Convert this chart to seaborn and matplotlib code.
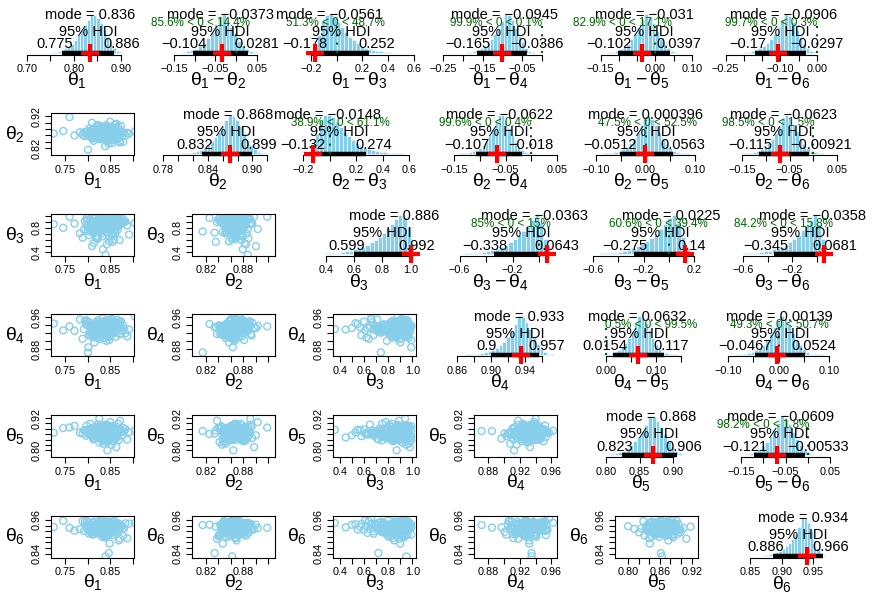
import numpy as np
import pandas as pd
import matplotlib
matplotlib.use("Agg")
import matplotlib.pyplot as plt
import seaborn as sns
from matplotlib.transforms import ScaledTranslation

sns.set_theme(style="ticks")
plt.rcParams['font.family'] = ['Liberation Sans', 'DejaVu Sans']
plt.rcParams['mathtext.fontset'] = 'custom'
plt.rcParams['mathtext.rm'] = 'Liberation Sans'
plt.rcParams['mathtext.it'] = 'Liberation Sans'
plt.rcParams['mathtext.bf'] = 'Liberation Sans:bold'
plt.rcParams['axes.unicode_minus'] = True

# ---------------- data: MCMC draws ----------------
theta1 = [0.842, 0.811, 0.857, 0.829, 0.868, 0.803, 0.838, 0.851, 0.794, 0.846,
          0.822, 0.879, 0.835, 0.816, 0.862, 0.841, 0.783, 0.826, 0.873, 0.848,
          0.831, 0.809, 0.855, 0.888, 0.837, 0.819, 0.845, 0.799, 0.864, 0.833,
          0.852, 0.827, 0.771, 0.843, 0.815, 0.869, 0.839, 0.806, 0.858, 0.824,
          0.836, 0.892, 0.813, 0.849, 0.828, 0.861, 0.789, 0.844, 0.832, 0.876,
          0.818, 0.853, 0.725, 0.840, 0.866, 0.821, 0.847, 0.802, 0.834, 0.859,
          0.825, 0.871, 0.812, 0.850, 0.838, 0.797, 0.863, 0.830, 0.845, 0.905,
          0.817, 0.856, 0.834, 0.808, 0.842, 0.826, 0.878, 0.820, 0.849, 0.837,
          0.760, 0.860, 0.823, 0.844, 0.814, 0.867, 0.831, 0.853, 0.801, 0.840,
          0.828, 0.884, 0.819, 0.846, 0.835, 0.746, 0.854, 0.810, 0.872, 0.833,
          0.839, 0.821, 0.851, 0.806, 0.844, 0.862, 0.828, 0.815, 0.847, 0.833,
          0.858, 0.824, 0.841, 0.869, 0.812, 0.836, 0.853, 0.827, 0.845, 0.798,
          0.831, 0.864, 0.819, 0.848, 0.838, 0.804, 0.856, 0.829, 0.843, 0.874,
          0.816, 0.835, 0.861, 0.823, 0.850, 0.809, 0.840, 0.867, 0.826, 0.846,
          0.832, 0.855, 0.813, 0.842, 0.871, 0.820, 0.837, 0.859, 0.800, 0.844,
          0.830, 0.852, 0.818, 0.865, 0.834, 0.847, 0.807, 0.841, 0.857, 0.825,
          0.849, 0.814, 0.838, 0.863, 0.822, 0.843, 0.792, 0.856, 0.830, 0.868,
          0.817, 0.845, 0.836, 0.860, 0.811, 0.839, 0.853, 0.827, 0.848, 0.881]
theta2 = [0.871, 0.852, 0.879, 0.861, 0.889, 0.866, 0.845, 0.874, 0.858, 0.883,
          0.868, 0.840, 0.877, 0.863, 0.856, 0.892, 0.870, 0.849, 0.865, 0.881,
          0.859, 0.873, 0.836, 0.868, 0.886, 0.854, 0.876, 0.862, 0.897, 0.867,
          0.848, 0.872, 0.860, 0.884, 0.857, 0.869, 0.826, 0.875, 0.864, 0.851,
          0.880, 0.866, 0.843, 0.871, 0.858, 0.894, 0.862, 0.878, 0.853, 0.869,
          0.874, 0.846, 0.866, 0.887, 0.859, 0.872, 0.834, 0.863, 0.881, 0.855,
          0.867, 0.877, 0.850, 0.903, 0.864, 0.870, 0.857, 0.885, 0.842, 0.873,
          0.861, 0.868, 0.879, 0.853, 0.866, 0.891, 0.860, 0.875, 0.847, 0.869,
          0.918, 0.856, 0.872, 0.864, 0.882, 0.849, 0.867, 0.876, 0.815, 0.862,
          0.870, 0.859, 0.888, 0.865, 0.852, 0.874, 0.861, 0.900, 0.838, 0.868,
          0.863, 0.874, 0.856, 0.869, 0.881, 0.851, 0.866, 0.877, 0.859, 0.871,
          0.845, 0.868, 0.884, 0.862, 0.873, 0.854, 0.879, 0.865, 0.849, 0.870,
          0.887, 0.861, 0.875, 0.857, 0.867, 0.882, 0.852, 0.872, 0.864, 0.890,
          0.858, 0.876, 0.846, 0.869, 0.880, 0.863, 0.855, 0.873, 0.866, 0.885,
          0.850, 0.871, 0.860, 0.878, 0.843, 0.867, 0.883, 0.862, 0.874, 0.856,
          0.869, 0.888, 0.853, 0.865, 0.877, 0.859, 0.872, 0.848, 0.868, 0.881,
          0.861, 0.875, 0.857, 0.864, 0.893, 0.852, 0.870, 0.879, 0.860, 0.866,
          0.876, 0.847, 0.867, 0.884, 0.858, 0.872, 0.863, 0.854, 0.878, 0.869]
theta3 = [0.87, 0.74, 0.93, 0.81, 0.96, 0.68, 0.89, 0.78, 0.91, 0.85,
          0.62, 0.94, 0.83, 0.97, 0.76, 0.88, 0.71, 0.92, 0.86, 0.99,
          0.80, 0.90, 0.57, 0.84, 0.95, 0.73, 0.88, 0.82, 0.98, 0.66,
          0.92, 0.79, 0.87, 0.53, 0.90, 0.85, 0.96, 0.75, 0.89, 0.93,
          0.84, 0.69, 0.91, 0.80, 0.97, 0.87, 0.64, 0.94, 0.82, 0.88,
          0.77, 0.95, 0.86, 0.36, 0.90, 0.83, 0.72, 0.99, 0.89, 0.81,
          0.93, 0.60, 0.87, 0.78, 0.92, 0.85, 0.96, 0.70, 0.91, 0.88,
          0.83, 0.97, 0.45, 0.86, 0.79, 0.94, 0.89, 0.67, 0.90, 0.84,
          0.98, 0.76, 0.92, 0.87, 0.55, 0.93, 0.81, 0.88, 0.74, 0.95,
          0.86, 0.90, 0.63, 0.84, 0.97, 0.80, 0.91, 0.50, 0.89, 0.94,
          0.88, 0.79, 0.93, 0.84, 0.97, 0.71, 0.90, 0.86, 0.95, 0.81,
          0.92, 0.76, 0.87, 0.99, 0.83, 0.94, 0.68, 0.89, 0.85, 0.96,
          0.78, 0.91, 0.87, 0.58, 0.93, 0.82, 0.98, 0.74, 0.90, 0.86,
          0.95, 0.80, 0.88, 0.65, 0.92, 0.84, 0.97, 0.77, 0.89, 0.91,
          0.83, 0.94, 0.72, 0.87, 0.96, 0.85, 0.90, 0.61, 0.93, 0.79,
          0.88, 0.99, 0.82, 0.91, 0.75, 0.86, 0.94, 0.89, 0.70, 0.92,
          0.84, 0.97, 0.80, 0.90, 0.87, 0.95, 0.77, 0.88, 0.93, 0.83,
          0.98, 0.73, 0.91, 0.86, 0.96, 0.81, 0.89, 0.94, 0.66, 0.90]
theta4 = [0.934, 0.921, 0.941, 0.928, 0.947, 0.915, 0.936, 0.925, 0.951, 0.931,
          0.909, 0.939, 0.926, 0.944, 0.932, 0.918, 0.954, 0.929, 0.937, 0.903,
          0.942, 0.927, 0.935, 0.912, 0.948, 0.930, 0.922, 0.940, 0.933, 0.957,
          0.919, 0.938, 0.926, 0.945, 0.897, 0.932, 0.943, 0.924, 0.936, 0.914,
          0.950, 0.929, 0.939, 0.920, 0.934, 0.946, 0.906, 0.931, 0.941, 0.927,
          0.937, 0.916, 0.944, 0.930, 0.953, 0.923, 0.935, 0.885, 0.940, 0.928,
          0.933, 0.949, 0.917, 0.938, 0.925, 0.942, 0.911, 0.936, 0.931, 0.962,
          0.921, 0.945, 0.929, 0.934, 0.901, 0.940, 0.926, 0.947, 0.932, 0.919,
          0.937, 0.928, 0.952, 0.913, 0.943, 0.930, 0.924, 0.939, 0.872, 0.935,
          0.946, 0.920, 0.932, 0.941, 0.908, 0.927, 0.955, 0.933, 0.918, 0.938,
          0.931, 0.924, 0.939, 0.917, 0.944, 0.928, 0.935, 0.912, 0.948, 0.933,
          0.921, 0.941, 0.927, 0.936, 0.909, 0.945, 0.930, 0.919, 0.938, 0.952,
          0.925, 0.934, 0.943, 0.915, 0.932, 0.947, 0.922, 0.937, 0.929, 0.950,
          0.913, 0.940, 0.926, 0.935, 0.946, 0.920, 0.931, 0.942, 0.905, 0.938,
          0.928, 0.953, 0.923, 0.936, 0.918, 0.944, 0.933, 0.927, 0.949, 0.930,
          0.916, 0.939, 0.925, 0.945, 0.934, 0.910, 0.941, 0.929, 0.937, 0.921,
          0.951, 0.932, 0.926, 0.943, 0.914, 0.936, 0.930, 0.948, 0.922, 0.940,
          0.928, 0.935, 0.907, 0.944, 0.933, 0.919, 0.938, 0.927, 0.954, 0.931]
theta5 = [0.868, 0.851, 0.879, 0.842, 0.872, 0.860, 0.889, 0.855, 0.875, 0.836,
          0.864, 0.883, 0.847, 0.870, 0.858, 0.895, 0.866, 0.829, 0.877, 0.853,
          0.886, 0.862, 0.874, 0.840, 0.869, 0.881, 0.849, 0.873, 0.812, 0.865,
          0.878, 0.856, 0.891, 0.867, 0.844, 0.876, 0.861, 0.899, 0.852, 0.871,
          0.834, 0.868, 0.884, 0.857, 0.874, 0.846, 0.863, 0.893, 0.859, 0.870,
          0.880, 0.821, 0.866, 0.876, 0.850, 0.887, 0.862, 0.872, 0.838, 0.869,
          0.859, 0.878, 0.845, 0.905, 0.864, 0.854, 0.882, 0.867, 0.831, 0.873,
          0.860, 0.890, 0.848, 0.871, 0.863, 0.918, 0.857, 0.875, 0.841, 0.868,
          0.885, 0.853, 0.866, 0.800, 0.877, 0.861, 0.894, 0.850, 0.872, 0.864,
          0.843, 0.879, 0.858, 0.870, 0.825, 0.883, 0.865, 0.856, 0.910, 0.869,
          0.866, 0.852, 0.878, 0.861, 0.884, 0.843, 0.870, 0.857, 0.875, 0.849,
          0.888, 0.864, 0.873, 0.838, 0.868, 0.881, 0.855, 0.872, 0.860, 0.892,
          0.847, 0.867, 0.877, 0.853, 0.885, 0.862, 0.834, 0.874, 0.858, 0.869,
          0.880, 0.850, 0.865, 0.896, 0.856, 0.871, 0.844, 0.876, 0.863, 0.883,
          0.859, 0.870, 0.841, 0.867, 0.879, 0.854, 0.886, 0.862, 0.873, 0.848,
          0.868, 0.890, 0.857, 0.875, 0.837, 0.865, 0.882, 0.861, 0.871, 0.851,
          0.878, 0.864, 0.845, 0.869, 0.887, 0.856, 0.874, 0.860, 0.866, 0.899,
          0.853, 0.872, 0.863, 0.840, 0.877, 0.868, 0.858, 0.884, 0.865, 0.870]
theta6 = [0.934, 0.918, 0.941, 0.926, 0.948, 0.911, 0.937, 0.929, 0.952, 0.921,
          0.939, 0.903, 0.944, 0.931, 0.915, 0.946, 0.927, 0.956, 0.933, 0.908,
          0.942, 0.924, 0.936, 0.895, 0.950, 0.930, 0.917, 0.940, 0.928, 0.966,
          0.913, 0.938, 0.922, 0.945, 0.934, 0.887, 0.943, 0.926, 0.951, 0.920,
          0.936, 0.947, 0.909, 0.932, 0.940, 0.924, 0.955, 0.929, 0.900, 0.938,
          0.943, 0.916, 0.935, 0.949, 0.927, 0.941, 0.842, 0.933, 0.946, 0.919,
          0.937, 0.925, 0.953, 0.931, 0.912, 0.944, 0.928, 0.939, 0.905, 0.950,
          0.923, 0.942, 0.934, 0.972, 0.917, 0.936, 0.929, 0.947, 0.876, 0.940,
          0.932, 0.951, 0.921, 0.938, 0.926, 0.945, 0.910, 0.935, 0.942, 0.830,
          0.928, 0.948, 0.914, 0.939, 0.930, 0.957, 0.924, 0.943, 0.893, 0.936,
          0.935, 0.922, 0.943, 0.917, 0.948, 0.929, 0.939, 0.910, 0.952, 0.933,
          0.925, 0.945, 0.904, 0.937, 0.928, 0.950, 0.919, 0.941, 0.931, 0.956,
          0.914, 0.936, 0.926, 0.946, 0.898, 0.938, 0.930, 0.953, 0.921, 0.942,
          0.934, 0.909, 0.947, 0.927, 0.940, 0.918, 0.951, 0.932, 0.944, 0.924,
          0.937, 0.906, 0.949, 0.930, 0.943, 0.920, 0.935, 0.958, 0.926, 0.939,
          0.912, 0.946, 0.933, 0.940, 0.923, 0.954, 0.929, 0.915, 0.942, 0.936,
          0.947, 0.928, 0.901, 0.938, 0.931, 0.950, 0.921, 0.944, 0.934, 0.916,
          0.940, 0.927, 0.955, 0.932, 0.908, 0.945, 0.925, 0.937, 0.943, 0.930]
thetas = [theta1, theta2, theta3, theta4, theta5, theta6]

# true proportions (red +)
true_theta = [0.835, 0.870, 1.000, 0.936, 0.871, 0.940]

# scatter axes: limits, ticks and tick labels per parameter
sc_lims = [(0.719, 0.903), (0.798, 0.9305), (0.345, 1.03), (0.8624, 0.967),
           (0.7755, 0.932), (0.826, 0.976)]
sc_ticks = [[0.75, 0.80, 0.85, 0.90],
            [0.82, 0.84, 0.86, 0.88, 0.90, 0.92],
            [0.4, 0.5, 0.6, 0.7, 0.8, 0.9, 1.0],
            [0.88, 0.90, 0.92, 0.94, 0.96],
            [0.80, 0.82, 0.84, 0.86, 0.88, 0.90, 0.92],
            [0.84, 0.86, 0.88, 0.90, 0.92, 0.94, 0.96]]
sc_xlabels = [['0.75', '', '0.85', ''],
              ['0.82', '', '', '0.88', '', ''],
              ['0.4', '', '0.6', '', '0.8', '', '1.0'],
              ['0.88', '', '0.92', '', '0.96'],
              ['0.80', '', '', '0.86', '', '', '0.92'],
              ['0.84', '', '', '0.90', '', '', '0.96']]
sc_ylabels = [['0.75', '', '0.85', ''],
              ['0.82', '', '', '', '', '0.92'],
              ['0.4', '', '', '', '0.8', '', ''],
              ['0.88', '', '', '', '0.96'],
              ['0.80', '', '', '', '', '', '0.92'],
              ['0.84', '', '', '', '', '', '0.96']]

# histogram panels (row, col): diagonal = theta_i, upper = theta_i - theta_j
hist_keys = [(0, 0), (0, 1), (0, 2), (0, 3), (0, 4), (0, 5),
             (1, 1), (1, 2), (1, 3), (1, 4), (1, 5),
             (2, 2), (2, 3), (2, 4), (2, 5),
             (3, 3), (3, 4), (3, 5),
             (4, 4), (4, 5),
             (5, 5)]
modes = [0.836, -0.0373, -0.0561, -0.0945, -0.031, -0.0906,
         0.868, -0.0148, -0.0622, 0.000396, -0.0623,
         0.886, -0.0363, 0.0225, -0.0358,
         0.933, 0.0632, 0.00139,
         0.868, -0.0609,
         0.934]
hdi_low = [0.775, -0.104, -0.178, -0.165, -0.102, -0.17,
           0.832, -0.132, -0.107, -0.0512, -0.115,
           0.599, -0.338, -0.275, -0.345,
           0.9, 0.0154, -0.0467,
           0.823, -0.121,
           0.886]
hdi_high = [0.886, 0.0281, 0.252, -0.0386, 0.0397, -0.0297,
            0.899, 0.274, -0.018, 0.0563, -0.00921,
            0.992, 0.0643, 0.14, 0.0681,
            0.957, 0.117, 0.0524,
            0.906, -0.00533,
            0.966]
pct_below = [None, 85.6, 51.3, 99.9, 82.9, 99.7,
             None, 38.9, 99.6, 47.5, 98.5,
             None, 85, 60.6, 84.2,
             None, 0.5, 49.3,
             None, 98.2,
             None]
hist_ranges = [(0.745, 0.910), (-0.150, 0.080), (-0.210, 0.510), (-0.210, 0.000),
               (-0.150, 0.090), (-0.220, 0.020),
               (0.805, 0.920), (-0.170, 0.550), (-0.140, 0.010), (-0.085, 0.090),
               (-0.150, 0.030),
               (0.300, 1.000), (-0.700, 0.100), (-0.650, 0.200), (-0.700, 0.100),
               (0.870, 0.975), (-0.010, 0.150), (-0.085, 0.090),
               (0.790, 0.925), (-0.165, 0.040),
               (0.860, 0.980)]
hist_counts = [
    [1, 2, 3, 5, 8, 12, 17, 24, 33, 45, 58, 72, 86, 100, 98, 90, 76, 58, 40, 25, 13, 6, 3, 1],
    [1, 1, 2, 4, 7, 11, 17, 26, 38, 54, 74, 95, 100, 86, 68, 48, 31, 18, 10, 5, 2, 1, 1, 0],
    [3, 15, 45, 82, 98, 100, 92, 80, 66, 53, 42, 33, 25, 19, 14, 10, 7, 5, 4, 3, 2, 1, 1, 1],
    [1, 1, 2, 3, 5, 8, 12, 18, 26, 37, 50, 65, 82, 100, 97, 84, 64, 44, 27, 14, 6, 3, 1, 1],
    [1, 1, 2, 3, 6, 10, 16, 24, 35, 50, 68, 88, 100, 92, 76, 56, 37, 22, 12, 6, 3, 1, 1, 0],
    [1, 1, 2, 3, 5, 8, 12, 18, 26, 36, 50, 66, 84, 100, 95, 80, 60, 40, 24, 12, 5, 2, 1, 1],
    [1, 1, 2, 4, 6, 10, 15, 22, 31, 42, 55, 70, 85, 100, 97, 86, 70, 52, 35, 21, 11, 5, 2, 1],
    [4, 18, 50, 85, 98, 100, 93, 82, 69, 56, 45, 35, 27, 20, 15, 11, 8, 6, 4, 3, 2, 1, 1, 1],
    [1, 1, 2, 4, 6, 10, 15, 23, 34, 48, 64, 82, 100, 98, 85, 66, 47, 30, 17, 9, 4, 2, 1, 1],
    [1, 1, 2, 4, 7, 11, 18, 27, 40, 56, 74, 92, 100, 90, 74, 56, 38, 24, 14, 7, 3, 2, 1, 1],
    [1, 1, 2, 4, 7, 11, 17, 26, 38, 54, 72, 92, 100, 92, 76, 57, 39, 24, 13, 7, 3, 1, 1, 0],
    [1, 1, 1, 2, 2, 3, 4, 5, 7, 9, 12, 15, 19, 24, 30, 37, 45, 55, 66, 78, 90, 100, 96, 70],
    [1, 1, 1, 1, 2, 2, 3, 4, 6, 8, 11, 14, 18, 23, 30, 38, 48, 60, 74, 88, 100, 80, 40, 8],
    [1, 1, 1, 2, 2, 3, 4, 6, 8, 11, 15, 20, 26, 33, 42, 53, 65, 78, 92, 100, 80, 45, 15, 3],
    [1, 1, 1, 2, 2, 3, 4, 5, 7, 9, 12, 15, 19, 24, 31, 39, 49, 61, 75, 89, 100, 78, 38, 7],
    [1, 1, 2, 3, 4, 6, 9, 13, 18, 25, 34, 45, 60, 78, 100, 96, 85, 66, 46, 28, 14, 6, 2, 1],
    [1, 1, 2, 4, 7, 12, 19, 29, 43, 60, 80, 100, 96, 82, 63, 44, 28, 16, 8, 4, 2, 1, 1, 0],
    [1, 1, 2, 4, 7, 11, 17, 26, 38, 54, 72, 90, 100, 92, 76, 57, 39, 24, 14, 7, 3, 2, 1, 1],
    [1, 1, 2, 3, 5, 8, 12, 18, 26, 36, 48, 62, 78, 100, 98, 88, 72, 54, 37, 22, 12, 5, 2, 1],
    [1, 1, 2, 4, 6, 10, 16, 24, 35, 49, 66, 84, 100, 94, 80, 61, 42, 27, 15, 8, 4, 2, 1, 1],
    [1, 1, 2, 3, 4, 6, 9, 13, 18, 25, 33, 43, 56, 74, 100, 97, 84, 64, 40, 20, 8, 3, 1, 0],
]
hist_ticks = [
    [0.70, 0.75, 0.80, 0.85, 0.90],
    [-0.15, -0.10, -0.05, 0.00, 0.05],
    [-0.2, 0.0, 0.2, 0.4, 0.6],
    [-0.25, -0.20, -0.15, -0.10, -0.05, 0.00],
    [-0.15, -0.10, -0.05, 0.00, 0.05, 0.10],
    [-0.25, -0.20, -0.15, -0.10, -0.05, 0.00],
    [0.78, 0.80, 0.82, 0.84, 0.86, 0.88, 0.90, 0.92],
    [-0.2, 0.0, 0.2, 0.4, 0.6],
    [-0.15, -0.10, -0.05, 0.00, 0.05],
    [-0.10, -0.05, 0.00, 0.05, 0.10],
    [-0.15, -0.10, -0.05, 0.00, 0.05],
    [0.4, 0.6, 0.8, 1.0],
    [-0.6, -0.4, -0.2, 0.0],
    [-0.6, -0.4, -0.2, 0.0, 0.2],
    [-0.6, -0.4, -0.2, 0.0],
    [0.86, 0.88, 0.90, 0.92, 0.94, 0.96],
    [0.00, 0.05, 0.10, 0.15],
    [-0.10, -0.05, 0.00, 0.05, 0.10],
    [0.80, 0.85, 0.90],
    [-0.15, -0.10, -0.05, 0.00, 0.05],
    [0.85, 0.90, 0.95],
]
M_ = '\u2212'
hist_ticklabels = [
    ['0.70', '', '0.80', '', '0.90'],
    [M_ + '0.15', '', M_ + '0.05', '', '0.05'],
    [M_ + '0.2', '', '0.2', '0.4', '0.6'],
    [M_ + '0.25', '', M_ + '0.15', '', M_ + '0.05', ''],
    [M_ + '0.15', '', '', '0.00', '', '0.10'],
    [M_ + '0.25', '', '', M_ + '0.10', '', '0.00'],
    ['0.78', '', '', '0.84', '', '', '0.90', ''],
    [M_ + '0.2', '', '0.2', '0.4', '0.6'],
    [M_ + '0.15', '', M_ + '0.05', '', '0.05'],
    [M_ + '0.10', '', '0.00', '', '0.10'],
    [M_ + '0.15', '', M_ + '0.05', '', '0.05'],
    ['0.4', '0.6', '0.8', '1.0'],
    [M_ + '0.6', '', M_ + '0.2', ''],
    [M_ + '0.6', '', M_ + '0.2', '', '0.2'],
    [M_ + '0.6', '', M_ + '0.2', ''],
    ['0.86', '', '0.90', '', '0.94', ''],
    ['0.00', '', '0.10', ''],
    [M_ + '0.10', '', '0.00', '', '0.10'],
    ['0.80', '0.85', '0.90'],
    [M_ + '0.15', '', M_ + '0.05', '', '0.05'],
    ['0.85', '0.90', '0.95'],
]

# ---------------- layout (pixels) ----------------
W, Hfig = 875, 597
ROW_B = [54.5 + 100.6 * r for r in range(6)]
PH = 42
SC_L = [51 + 141 * c for c in range(6)]
SC_W = 83
HIST_PX = [(26.7, 120.7), (174, 256.7), (310.7, 414), (443.3, 541.7), (600.7, 691.7), (725.7, 816.7),
           (163, 267.3), (303.3, 409.3), (454, 557), (596, 695), (742.3, 836.7),
           (326, 410.7), (459.5, 539), (593, 694), (743, 817),
           (456.7, 541.7), (605.7, 681), (728.3, 829),
           (606.3, 672.7), (741, 830),
           (750, 813.3)]

SKY = '#87CEEB'
GREEN = '#006400'

fig = plt.figure(figsize=(W / 100, Hfig / 100), dpi=100)
fig.patch.set_facecolor('white')


def rect(x0, x1, ytop, ybot):
    return [x0 / W, 1 - ybot / Hfig, (x1 - x0) / W, (ybot - ytop) / Hfig]


def fx(px):
    return px / W


def fy(py):
    return 1 - py / Hfig


def fmt(v):
    return f"{v:.3g}".replace('-', M_)


adjust = []


def ftext(ax, x, y, s, frac, dy_pt, **kw):
    t = ax.text(x, y, s, ha='left', va='baseline', clip_on=False, zorder=4, **kw)
    adjust.append((t, frac, dy_pt, ax))
    return t


TICK_KW = dict(direction='out', length=4.5, width=0.8, color='black',
               labelsize=7.8, labelcolor='black', pad=2.5)

# ---------- histogram panels ----------
for k, (i, j) in enumerate(hist_keys):
    x0, x1 = HIST_PX[k]
    ax = fig.add_axes(rect(x0, x1, ROW_B[i] - PH, ROW_B[i]))
    ax.patch.set_visible(False)
    lo, hi = hist_ranges[k]
    counts = hist_counts[k]
    edges = [float(e) for e in np.linspace(lo, hi, len(counts) + 1)]
    centers = [(edges[q] + edges[q + 1]) / 2 for q in range(len(counts))]
    vals = np.repeat(centers, counts)
    hdf = pd.DataFrame({'v': vals})
    sns.histplot(data=hdf, x='v', bins=edges, stat='count',
                 color=SKY, edgecolor='white', linewidth=0.4, alpha=1, ax=ax)
    for p in ax.patches:
        p.set_clip_on(False)
    M = max(counts)
    ticks = hist_ticks[k]
    ax.set_xlim(ticks[0], ticks[-1])
    ax.set_ylim(-0.04 * M, 1.04 * M)
    ax.set_xticks(ticks)
    ax.set_xticklabels(hist_ticklabels[k])
    ax.set_yticks([])
    ax.set_xlabel('')
    ax.set_ylabel('')
    for s in ['left', 'right', 'top']:
        ax.spines[s].set_visible(False)
    ax.spines['bottom'].set_color('black')
    ax.spines['bottom'].set_linewidth(0.8)
    ax.tick_params(axis='x', bottom=True, **TICK_KW)

    md, hl, hh = modes[k], hdi_low[k], hdi_high[k]
    ax.plot([hl, hh], [0, 0], color='black', lw=3.2, solid_capstyle='butt',
            clip_on=False, zorder=3)
    ftext(ax, md, 0.88 * M, f"mode = {fmt(md)}", 0.5, 0, fontsize=10.5, color='black')
    ftext(ax, (hl + hh) / 2, 0, "95% HDI", 0.5, 12.4, fontsize=10.5, color='black')
    ftext(ax, hl, 0, fmt(hl), 0.7, 3.3, fontsize=10.5, color='black')
    ftext(ax, hh, 0, fmt(hh), 0.3, 3.3, fontsize=10.5, color='black')
    pb = pct_below[k]
    if pb is not None:
        ax.plot([0, 0], [0, 0.96 * 0.9 * M], color=GREEN, lw=1.5,
                linestyle=(0, (1, 3)), clip_on=False, zorder=3)
        txt = f"{pb:g}% < 0 < {round(100 - pb, 1):g}%"
        ftext(ax, 0, 0.7 * M, txt, pb / 100, 0, fontsize=8.4, color=GREEN)
    tv = true_theta[i] if i == j else true_theta[i] - true_theta[j]
    ax.plot([tv], [0], marker='+', ms=13, mew=3, color='red', clip_on=False, zorder=6)

    if i == j:
        lab = rf'$\theta_{{{i + 1}}}$'
    else:
        lab = rf'$\theta_{{{i + 1}}} - \theta_{{{j + 1}}}$'
    fig.text(fx(77 + 141 * j), fy(ROW_B[i] + 26), lab, fontsize=14,
             ha='center', va='center', color='black')

# ---------- scatter panels ----------
n = min(len(t) for t in thetas)
for r in range(1, 6):
    for c in range(r):
        ax = fig.add_axes(rect(SC_L[c], SC_L[c] + SC_W, ROW_B[r] - PH, ROW_B[r]))
        df = pd.DataFrame({'x': thetas[c][:n], 'y': thetas[r][:n]})
        sns.scatterplot(data=df, x='x', y='y', ax=ax, marker='o', s=25,
                        color=SKY, facecolor='none', edgecolor=SKY,
                        linewidth=1.0, legend=False)
        ax.set_xlim(*sc_lims[c])
        ax.set_ylim(*sc_lims[r])
        ax.set_xticks(sc_ticks[c])
        ax.set_xticklabels(sc_xlabels[c])
        ax.set_yticks(sc_ticks[r])
        ax.set_yticklabels(sc_ylabels[r], rotation=90, va='center')
        ax.set_xlabel('')
        ax.set_ylabel('')
        for s in ax.spines.values():
            s.set_visible(True)
            s.set_color('black')
            s.set_linewidth(0.8)
            s.set_zorder(5)
        ax.tick_params(axis='x', bottom=True, **TICK_KW)
        ax.tick_params(axis='y', left=True, **TICK_KW)
        fig.text(fx(SC_L[c] + SC_W / 2), fy(ROW_B[r] + 25), rf'$\theta_{{{c + 1}}}$',
                 fontsize=14, ha='center', va='center', color='black')
        fig.text(fx(SC_L[c] - 36), fy(ROW_B[r] - PH / 2), rf'$\theta_{{{r + 1}}}$',
                 fontsize=14, ha='center', va='center', color='black')

# ---------- anchor texts like R's adj ----------
fig.canvas.draw()
renderer = fig.canvas.get_renderer()
for t, frac, dy, ax in adjust:
    w = t.get_window_extent(renderer).width
    t.set_transform(ax.transData + ScaledTranslation(-frac * w / fig.dpi, dy / 72,
                                                     fig.dpi_scale_trans))

fig.savefig('out.png', dpi=100, facecolor='white')
